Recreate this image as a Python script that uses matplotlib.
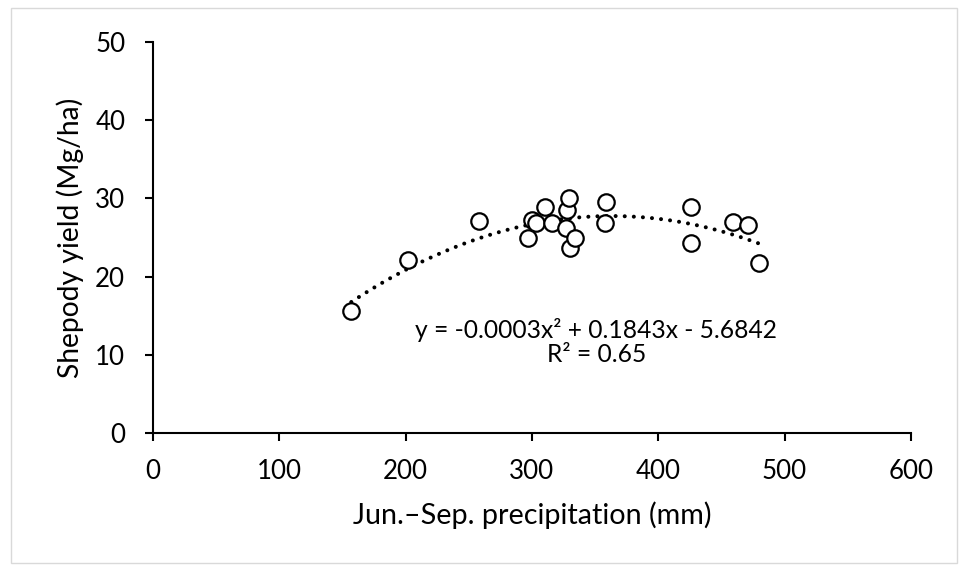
import numpy as np
import matplotlib
matplotlib.use("Agg")
import matplotlib.pyplot as plt
from matplotlib.patches import Rectangle

# Jun.-Sep. precipitation (mm) vs Shepody yield (Mg/ha)
precip = [157, 202, 258, 297, 300, 303, 310, 316, 327, 328, 329, 330, 334,
          358, 359, 426, 426, 459, 471, 480]
yield_ = [15.6, 22.1, 27.1, 24.9, 27.2, 26.8, 28.9, 26.8, 26.2, 28.5, 30.0,
          23.6, 24.9, 26.8, 29.6, 28.9, 24.3, 27.0, 26.6, 21.7]
x_ticks = [0, 100, 200, 300, 400, 500, 600]
y_ticks = [0, 10, 20, 30, 40, 50]
eq_text = "y = -0.0003x\u00b2 + 0.1843x - 5.6842\nR\u00b2 = 0.65"

plt.rcParams["font.family"] = ["Lato", "DejaVu Sans"]

fig = plt.figure(figsize=(9.68, 5.7), dpi=100)
fig.patches.append(Rectangle((0.011, 0.012), 0.978, 0.974, transform=fig.transFigure,
                             fill=False, edgecolor="#d9d9d9", linewidth=1))
ax = fig.add_axes([0.158, 0.2404, 0.783, 0.6859])

ax.scatter(precip, yield_, s=140, facecolors="white", edgecolors="black",
           linewidths=1.6, zorder=3)

# second-order polynomial trendline over the data range
coef = np.polyfit(precip, yield_, 2)
xs = np.linspace(min(precip), max(precip), 200)
ax.plot(xs, np.polyval(coef, xs), color="black", linewidth=2.9,
        linestyle=(0, (0.01, 2.25)), dash_capstyle="round", zorder=2)

eq = ax.text(351, 11.6, eq_text, ha="center", va="center", fontsize=17,
             linespacing=1.05)

ax.set_xlim(0, 600)
ax.set_ylim(0, 50)
ax.set_xticks(x_ticks)
ax.set_yticks(y_ticks)
ax.tick_params(direction="out", length=6, width=1.5, labelsize=18)
ax.tick_params(axis="y", pad=14)
ax.tick_params(axis="x", pad=13)
for s in ["top", "right"]:
    ax.spines[s].set_visible(False)
for s in ["left", "bottom"]:
    ax.spines[s].set_linewidth(1.5)

ax.set_xlabel("Jun.\u2013Sep. precipitation (mm)", fontsize=18, va="center")
ax.set_ylabel("Shepody yield (Mg/ha)", fontsize=18, va="center")
ax.xaxis.set_label_coords(0.5, -0.21)
ax.yaxis.set_label_coords(-0.109, 0.5)

# scale text so widths match the Calibri original
r = fig.canvas.get_renderer()
def fit(t, target, vertical=False):
    bb = t.get_window_extent(r)
    size = bb.height if vertical else bb.width
    t.set_fontsize(t.get_fontsize() * target / size)

fit(ax.xaxis.label, 358)
fit(ax.yaxis.label, 280, vertical=True)
fit(eq, 362)
lab = ax.get_xticklabels()[1]
tick_size = lab.get_fontsize() * 45 / lab.get_window_extent(r).width
ax.tick_params(labelsize=tick_size)

fig.savefig("out.png", dpi=100)
